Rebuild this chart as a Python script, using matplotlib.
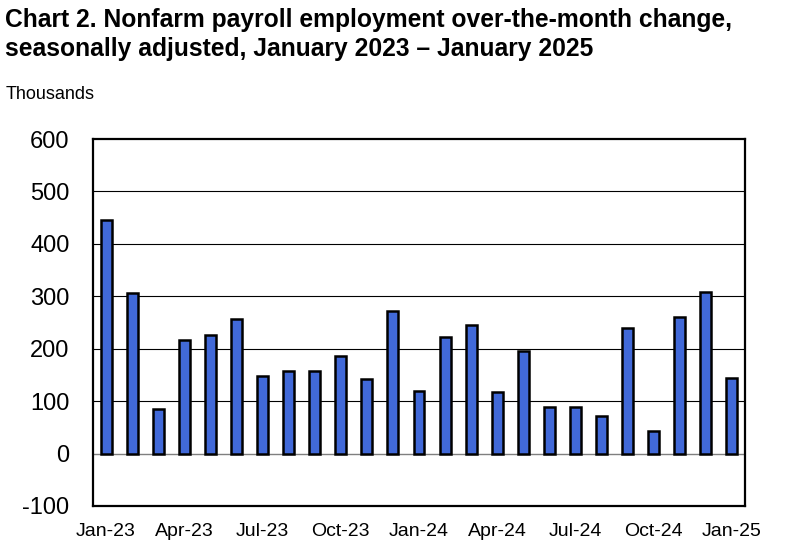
import matplotlib.pyplot as plt
import numpy as np

plt.rcParams['font.family'] = ['Liberation Sans', 'DejaVu Sans']

# 数据：每月非农就业变化（千人）
months = ['Jan-23', 'Feb-23', 'Mar-23', 'Apr-23', 'May-23', 'Jun-23', 'Jul-23', 'Aug-23',
          'Sep-23', 'Oct-23', 'Nov-23', 'Dec-23', 'Jan-24', 'Feb-24', 'Mar-24', 'Apr-24',
          'May-24', 'Jun-24', 'Jul-24', 'Aug-24', 'Sep-24', 'Oct-24', 'Nov-24', 'Dec-24',
          'Jan-25']
change = [446, 306, 85, 217, 227, 257, 148, 158,
          158, 187, 142, 271, 120, 223, 246, 118,
          195, 88, 88, 72, 240, 44, 261, 309,
          144]
y_ticks = [-100, 0, 100, 200, 300, 400, 500, 600]

W, H = 794, 551
fig = plt.figure(figsize=(W / 100, H / 100), dpi=100)
# 坐标轴位置（像素换算）
left, right, top, bottom = 93, 745, 139, 506
ax = fig.add_axes([left / W, 1 - bottom / H, (right - left) / W, (bottom - top) / H])

x = np.arange(len(months))
ax.bar(x, change, width=0.42, color='#4169D8', edgecolor='black', linewidth=1.8, zorder=3)

ax.set_ylim(-100, 600)
ax.set_xlim(-0.5, len(months) - 0.5)
ax.set_yticks(y_ticks)
ax.set_yticklabels([str(v) for v in y_ticks], fontsize=17)
ax.set_xticks(x[::3])
ax.set_xticklabels(months[::3], fontsize=14)
ax.tick_params(axis='both', length=0)
ax.tick_params(axis='y', pad=17)
ax.tick_params(axis='x', pad=12)

for v in y_ticks[2:-1]:
    ax.axhline(v, color='black', linewidth=0.8, zorder=1)
ax.axhline(0, color='#7f7f7f', linewidth=1.0, zorder=2)

for s in ax.spines.values():
    s.set_linewidth(1.6)
    s.set_color('black')

fig.text(5 / W, 1 - 27 / H, 'Chart 2. Nonfarm payroll employment over-the-month change,',
         fontsize=17.7, fontweight='bold', va='baseline', ha='left')
fig.text(5 / W, 1 - 56 / H, 'seasonally adjusted, January 2023 \u2013 January 2025',
         fontsize=17.7, fontweight='bold', va='baseline', ha='left')
fig.text(6 / W, 1 - 99 / H, 'Thousands', fontsize=13, va='baseline', ha='left')

fig.savefig('out.png', dpi=100)
